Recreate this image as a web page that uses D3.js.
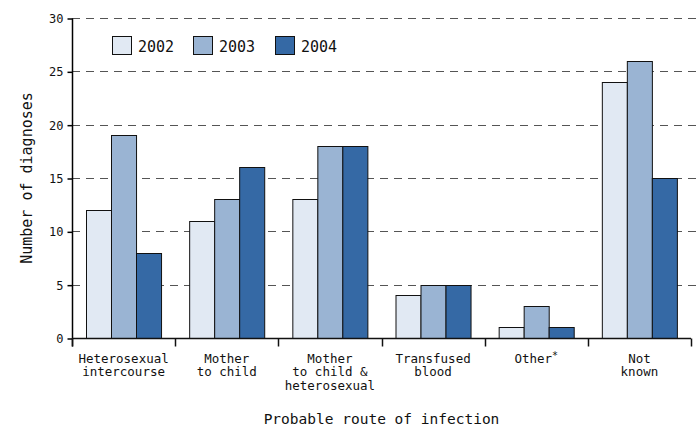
<!DOCTYPE html>
<html lang="en">
<head>
<meta charset="utf-8">
<title>Probable route of infection</title>
<style>
  body { margin: 0; background: #fff; }
  text { font-family: "DejaVu Sans Mono", monospace; fill: #111; }
</style>
</head>
<body>
<svg id="chart" width="697" height="428"></svg>
<script src="https://cdn.jsdelivr.net/npm/d3@7"></script>
<script>
const routes = [
  ["Heterosexual", "intercourse"],
  ["Mother", "to child"],
  ["Mother", "to child &", "heterosexual"],
  ["Transfused", "blood"],
  ["Other*"],
  ["Not", "known"]
];
const years = ["2002", "2003", "2004"];
const v2002 = [12, 11, 13, 4, 1, 24];
const v2003 = [19, 13, 18, 5, 3, 26];
const v2004 = [8, 16, 18, 5, 1, 15];
const yTicks = [0, 5, 10, 15, 20, 25, 30];
const colors = ["#e1e9f3", "#9ab4d3", "#3569a5"];

const series = [v2002, v2003, v2004];
const svg = d3.select("#chart");
const margin = {left: 72, right: 6, top: 18, bottom: 90};
const W = 697, H = 428;

const x = d3.scaleBand()
  .domain(d3.range(routes.length))
  .range([margin.left, W - margin.right])
  .paddingInner(0).paddingOuter(0);
const xi = d3.scaleBand()
  .domain(years)
  .range([0, x.bandwidth()])
  .paddingOuter(0.56).paddingInner(0);
const y = d3.scaleLinear().domain([0, 30]).range([H - margin.bottom, margin.top]);

// gridlines
svg.append("g").selectAll("line")
  .data(yTicks.filter(d => d > 0))
  .join("line")
  .attr("x1", margin.left).attr("x2", W)
  .attr("y1", d => Math.round(y(d)) + 0.5).attr("y2", d => Math.round(y(d)) + 0.5)
  .attr("stroke", "#555").attr("stroke-width", 1.2)
  .attr("stroke-dasharray", "8,6");

// bars
const groups = svg.append("g").selectAll("g")
  .data(routes.map((r, i) => i))
  .join("g")
  .attr("transform", i => `translate(${x(i)},0)`);
groups.selectAll("rect")
  .data(i => years.map((yr, k) => ({yr, k, v: series[k][i]})))
  .join("rect")
  .attr("x", d => Math.round(xi(d.yr)) + 0.5)
  .attr("width", xi.bandwidth())
  .attr("y", d => Math.round(y(d.v)) + 0.5)
  .attr("height", d => Math.round(y(0)) - Math.round(y(d.v)))
  .attr("fill", d => colors[d.k])
  .attr("stroke", "#111").attr("stroke-width", 1);

// y axis
const yAxis = svg.append("g")
  .attr("transform", `translate(${margin.left + 0.5},0.5)`)
  .call(d3.axisLeft(y).tickValues(yTicks).tickSize(5).tickPadding(4));
yAxis.select(".domain").attr("d", `M0,${Math.round(y(30))}V${Math.round(y(0)) + 8}`).attr("stroke-width", 1.5);
yAxis.selectAll(".tick line").attr("stroke-width", 1.5);
yAxis.selectAll("text").style("font-size", "12px").attr("fill", "#111");

// x axis
const xAxisY = Math.round(y(0)) + 0.5;
const xg = svg.append("g");
xg.append("line").attr("x1", margin.left).attr("x2", W - margin.right)
  .attr("y1", xAxisY).attr("y2", xAxisY).attr("stroke", "#111").attr("stroke-width", 1.5);
xg.selectAll("line.tk")
  .data(d3.range(routes.length + 1))
  .join("line").attr("class", "tk")
  .attr("x1", i => Math.round(margin.left + i * x.bandwidth()) + 0.5)
  .attr("x2", i => Math.round(margin.left + i * x.bandwidth()) + 0.5)
  .attr("y1", xAxisY).attr("y2", xAxisY + 8)
  .attr("stroke", "#111").attr("stroke-width", 1.5);
xg.selectAll("text.cat")
  .data(routes)
  .join("text").attr("class", "cat")
  .attr("text-anchor", "middle")
  .attr("x", (d, i) => x(i) + x.bandwidth() / 2)
  .attr("y", xAxisY + 24)
  .style("font-size", "12.5px")
  .each(function(lines) {
    const t = d3.select(this);
    const cx = t.attr("x");
    lines.forEach((line, j) => {
      const ts = t.append("tspan").attr("x", cx).attr("dy", j === 0 ? 0 : 13.5);
      if (line.endsWith("*")) {
        ts.text(line.slice(0, -1));
        t.append("tspan").attr("dy", -4).style("font-size", "10px").text("*");
      } else {
        ts.text(line);
      }
    });
  });

// axis titles
svg.append("text")
  .attr("text-anchor", "middle")
  .attr("x", (margin.left + W - margin.right) / 2)
  .attr("y", 424)
  .style("font-size", "14.5px")
  .text("Probable route of infection");
svg.append("text")
  .attr("text-anchor", "middle")
  .attr("transform", `translate(32,${y(15)}) rotate(-90)`)
  .style("font-size", "15px")
  .text("Number of diagnoses");

// legend
const lg = svg.append("g").attr("transform", "translate(112,36)");
const li = lg.selectAll("g").data(years).join("g")
  .attr("transform", (d, k) => `translate(${[0, 81, 163][k]},0)`);
li.append("rect").attr("x", 0.5).attr("y", 0.5).attr("width", 19).attr("height", 18)
  .attr("fill", (d, k) => colors[k]).attr("stroke", "#111");
li.append("text").attr("x", 26).attr("y", 16).style("font-size", "15px").text(d => d);
</script>
</body>
</html>
